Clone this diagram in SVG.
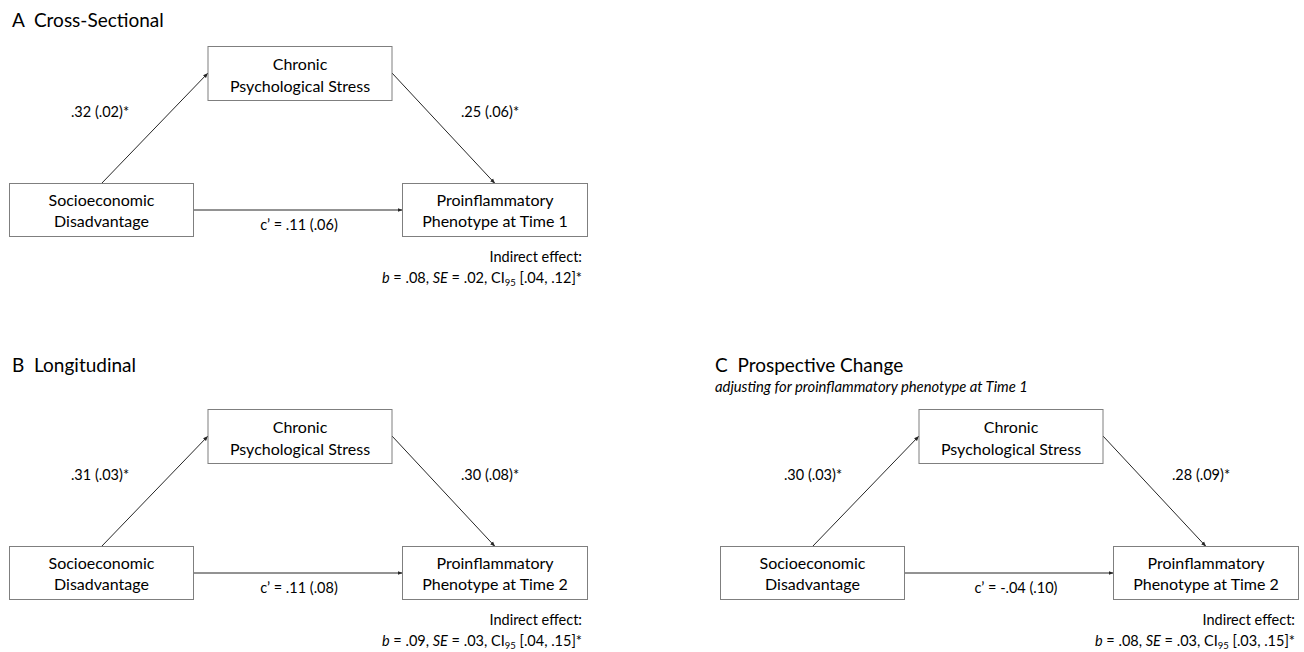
<svg xmlns="http://www.w3.org/2000/svg" width="1304" height="652" viewBox="0 0 1304 652">
<style>
text{font-family:Lato,"Liberation Sans",sans-serif;fill:#000}
.t{font-size:19px;white-space:pre}
.n{font-size:16px;text-anchor:middle}
.l{font-size:14.5px;text-anchor:middle}
.i{font-size:14.5px;text-anchor:end}
.s{font-size:14.8px;font-style:italic}
.b{fill:#fff;stroke:#7f7f7f;stroke-width:1}
.c{stroke:#262626;stroke-width:1;fill:none;marker-end:url(#ah)}
</style>
<defs>
<marker id="ah" markerWidth="6" markerHeight="6" refX="5" refY="3" orient="auto" markerUnits="userSpaceOnUse">
<path d="M0,1 L5,3 L0,5 z" fill="#262626"/>
</marker>
</defs>
<rect width="1304" height="652" fill="#fff"/>

<text class="t" x="12" y="27" xml:space="preserve">A  Cross-Sectional</text>
<text class="t" x="12" y="372" xml:space="preserve">B  Longitudinal</text>
<text class="t" x="715" y="372" xml:space="preserve">C  Prospective Change</text>
<text class="s" x="715" y="392">adjusting for proinflammatory phenotype at Time 1</text>

<g id="connectors">
<line class="c" x1="101.5" y1="183.5" x2="208" y2="73"/>
<line class="c" x1="392" y1="73" x2="495" y2="183.5"/>
<line class="c" x1="193.5" y1="210" x2="402.5" y2="210"/>
<line class="c" x1="101.5" y1="546.5" x2="208" y2="436"/>
<line class="c" x1="392" y1="436" x2="495" y2="546.5"/>
<line class="c" x1="193.5" y1="573" x2="402.5" y2="573"/>
<line class="c" x1="812.5" y1="546.5" x2="919" y2="436"/>
<line class="c" x1="1103" y1="436" x2="1206" y2="546.5"/>
<line class="c" x1="904.5" y1="573" x2="1113.5" y2="573"/>
</g>

<g id="a-stress"><rect class="b" x="208" y="46.5" width="184" height="54"/><text class="n" x="300" y="70">Chronic</text><text class="n" x="300" y="92">Psychological Stress</text></g>
<g id="a-ses"><rect class="b" x="9.5" y="183.5" width="184" height="53"/><text class="n" x="101.5" y="206">Socioeconomic</text><text class="n" x="101.5" y="227">Disadvantage</text></g>
<g id="a-pro"><rect class="b" x="402.5" y="183.5" width="185" height="53"/><text class="n" x="495" y="206">Proinflammatory</text><text class="n" x="495" y="227">Phenotype at Time 1</text></g>
<g id="a-labels">
<text class="l" x="100" y="117">.32 (.02)*</text>
<text class="l" x="490" y="117">.25 (.06)*</text>
<text class="l" x="299" y="230">c’ = .11 (.06)</text>
<text class="i" x="582" y="262">Indirect effect:</text>
<text class="i" x="582" y="283"><tspan font-style="italic">b</tspan> = .08, <tspan font-style="italic">SE</tspan> = .02, CI<tspan font-size="9.5" dy="3">95</tspan><tspan dy="-3"> [.04, .12]*</tspan></text>
</g>

<g id="b-stress"><rect class="b" x="208" y="409.5" width="184" height="54"/><text class="n" x="300" y="433">Chronic</text><text class="n" x="300" y="455">Psychological Stress</text></g>
<g id="b-ses"><rect class="b" x="9.5" y="546.5" width="184" height="53"/><text class="n" x="101.5" y="569">Socioeconomic</text><text class="n" x="101.5" y="590">Disadvantage</text></g>
<g id="b-pro"><rect class="b" x="402.5" y="546.5" width="185" height="53"/><text class="n" x="495" y="569">Proinflammatory</text><text class="n" x="495" y="590">Phenotype at Time 2</text></g>
<g id="b-labels">
<text class="l" x="100" y="480">.31 (.03)*</text>
<text class="l" x="490" y="480">.30 (.08)*</text>
<text class="l" x="299" y="593">c’ = .11 (.08)</text>
<text class="i" x="582" y="625">Indirect effect:</text>
<text class="i" x="582" y="646"><tspan font-style="italic">b</tspan> = .09, <tspan font-style="italic">SE</tspan> = .03, CI<tspan font-size="9.5" dy="3">95</tspan><tspan dy="-3"> [.04, .15]*</tspan></text>
</g>

<g id="c-stress"><rect class="b" x="919" y="409.5" width="184" height="54"/><text class="n" x="1011" y="433">Chronic</text><text class="n" x="1011" y="455">Psychological Stress</text></g>
<g id="c-ses"><rect class="b" x="720.5" y="546.5" width="184" height="53"/><text class="n" x="812.5" y="569">Socioeconomic</text><text class="n" x="812.5" y="590">Disadvantage</text></g>
<g id="c-pro"><rect class="b" x="1113.5" y="546.5" width="185" height="53"/><text class="n" x="1206" y="569">Proinflammatory</text><text class="n" x="1206" y="590">Phenotype at Time 2</text></g>
<g id="c-labels">
<text class="l" x="813" y="480">.30 (.03)*</text>
<text class="l" x="1201" y="480">.28 (.09)*</text>
<text class="l" x="1016" y="593">c’ = -.04 (.10)</text>
<text class="i" x="1295" y="625">Indirect effect:</text>
<text class="i" x="1295" y="646"><tspan font-style="italic">b</tspan> = .08, <tspan font-style="italic">SE</tspan> = .03, CI<tspan font-size="9.5" dy="3">95</tspan><tspan dy="-3"> [.03, .15]*</tspan></text>
</g>
</svg>
